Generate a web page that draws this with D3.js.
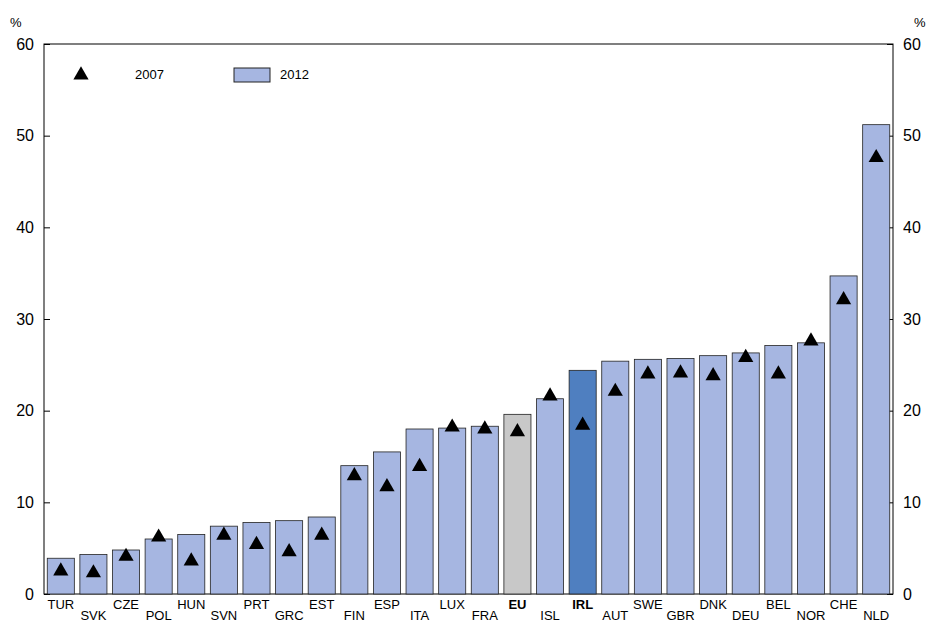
<!DOCTYPE html>
<html><head><meta charset="utf-8">
<script src="https://cdn.jsdelivr.net/npm/d3@7"></script>
<style>body{margin:0;background:#fff}text{font-family:Arial,"Liberation Sans",sans-serif}</style>
</head><body><div id="vis"></div>
<script>
const countries = ["TUR","SVK","CZE","POL","HUN","SVN","PRT","GRC","EST","FIN","ESP","ITA","LUX","FRA","EU","ISL","IRL","AUT","SWE","GBR","DNK","DEU","BEL","NOR","CHE","NLD"];
const v2012 = [3.9,4.3,4.8,6.0,6.5,7.4,7.8,8.0,8.4,14.0,15.5,18.0,18.1,18.3,19.6,21.3,24.4,25.4,25.6,25.7,26.0,26.3,27.1,27.4,34.7,51.2];
const v2007 = [2.5,2.3,4.1,6.2,3.6,6.4,5.4,4.6,6.4,12.9,11.7,13.9,18.2,18.0,17.7,21.6,18.4,22.1,24.0,24.1,23.8,25.8,24.0,27.6,32.1,47.6];
const yTicks = [0,10,20,30,40,50,60];

const margin = {top: 44, right: 36, bottom: 29, left: 44};
const W = 929, H = 623;
const width = W - margin.left - margin.right;
const height = H - margin.top - margin.bottom;

const svg = d3.select('#vis').append('svg').attr('width', W).attr('height', H)
const g = svg.append('g').attr('transform', `translate(${margin.left},${margin.top})`);

const x = d3.scaleBand().domain(countries).range([0, width]).paddingInner(0.17).paddingOuter(0.1);
const y = d3.scaleLinear().domain([0, 60]).range([height, 0]);

g.append('rect').attr('width', width).attr('height', height).attr('fill', 'none').attr('stroke', '#000');

g.append('g').call(d3.axisLeft(y).tickValues(yTicks).tickSize(-6).tickPadding(10))
  .call(a => a.select('.domain').remove());
g.append('g').attr('transform', `translate(${width},0)`)
  .call(d3.axisRight(y).tickValues(yTicks).tickSize(-6).tickPadding(10))
  .call(a => a.select('.domain').remove());
g.selectAll('.tick text').attr('font-size', 16).attr('fill', '#000');
svg.append('text').attr('x', 10).attr('y', 27).attr('font-size', 13).text('%');
svg.append('text').attr('x', 914).attr('y', 27).attr('font-size', 13).text('%');

const fill = d => d === 'EU' ? '#c8c8c8' : d === 'IRL' ? '#4f7fc0' : '#a6b6e1';
g.selectAll('.bar').data(countries).enter().append('rect')
  .attr('x', d => x(d)).attr('width', x.bandwidth())
  .attr('y', (d, i) => y(v2012[i])).attr('height', (d, i) => height - y(v2012[i]))
  .attr('fill', fill).attr('stroke', '#222').attr('stroke-width', 0.8);

const tri = d3.symbol().type(d3.symbolTriangle).size(100);
g.selectAll('.tri').data(countries).enter().append('path')
  .attr('d', tri).attr('fill', '#000')
  .attr('transform', (d, i) => `translate(${x(d) + x.bandwidth() / 2},${y(v2007[i])})`);

g.selectAll('.lab').data(countries).enter().append('text')
  .attr('x', d => x(d) + x.bandwidth() / 2)
  .attr('y', (d, i) => height + (i % 2 === 0 ? 15 : 26))
  .attr('text-anchor', 'middle').attr('font-size', 13)
  .attr('font-weight', d => (d === 'EU' || d === 'IRL') ? 'bold' : 'normal')
  .text(d => d);

// legend
g.append('path').attr('d', tri).attr('transform', 'translate(37,31)');
g.append('text').attr('x', 91).attr('y', 35).attr('font-size', 13).text('2007');
g.append('rect').attr('x', 190).attr('y', 24).attr('width', 36).attr('height', 14)
  .attr('fill', '#a6b6e1').attr('stroke', '#222');
g.append('text').attr('x', 236).attr('y', 35).attr('font-size', 13).text('2012');
</script></body></html>
